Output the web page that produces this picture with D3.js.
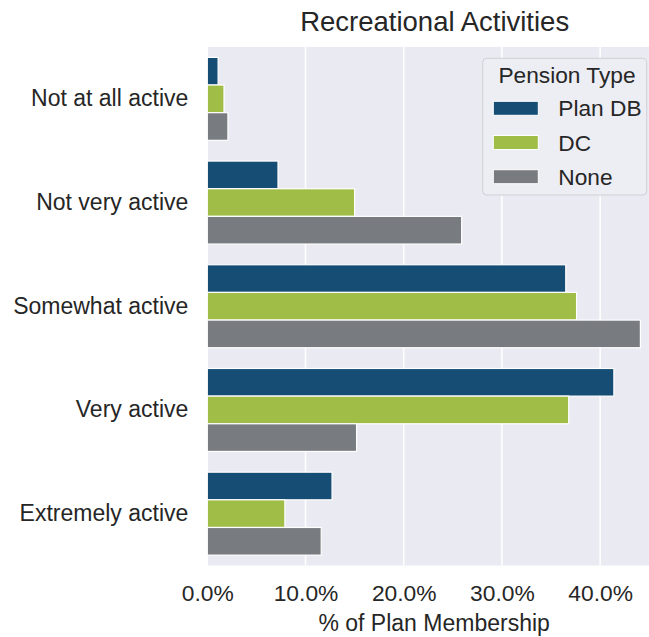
<!DOCTYPE html>
<html>
<head>
<meta charset="utf-8">
<script src="https://cdn.jsdelivr.net/npm/d3@7"></script>
<style>
  html, body { margin: 0; padding: 0; background: #ffffff; }
  svg { display: block; }
  text { font-family: "Liberation Sans", Arial, sans-serif; fill: #262626; }
</style>
</head>
<body>
<svg id="chart" width="649" height="637"></svg>
<script>
const categories = ["Not at all active", "Not very active", "Somewhat active", "Very active", "Extremely active"];
const seriesNames = ["Plan DB", "DC", "None"];
const planDB = [1.1, 7.2, 36.5, 41.4, 12.7];
const dc = [1.7, 15.0, 37.6, 36.8, 7.9];
const none = [2.1, 25.9, 44.1, 15.2, 11.6];
const xTicks = [0, 10, 20, 30, 40];
const colors = ["#154d75", "#a0bd48", "#787b80"];
const title = "Recreational Activities";
const xLabel = "% of Plan Membership";
const legendTitle = "Pension Type";

(function () {
const seriesValues = [planDB, dc, none];
const rows = [];
categories.forEach((c, i) => seriesNames.forEach((s, j) => rows.push({ cat: c, ser: s, val: seriesValues[j][i] })));

const svg = d3.select("#chart");
const pL = 207.3, pR = 662, pT = 47, pB = 565.5;

const x = d3.scaleLinear().domain([0, 46.3]).range([pL, pR]);
const y = d3.scaleBand().domain(categories).range([pT, pB]).padding(0);
const inner = d3.scaleBand().domain(seriesNames).range([y.bandwidth() * 0.1, y.bandwidth() * 0.9]).padding(0);
const color = d3.scaleOrdinal().domain(seriesNames).range(colors);

// background
svg.append("rect").attr("x", pL).attr("y", pT).attr("width", pR - pL).attr("height", pB - pT).attr("fill", "#eaeaf2");

// gridlines
svg.append("g").selectAll("line").data(xTicks).join("line")
  .attr("x1", d => x(d)).attr("x2", d => x(d)).attr("y1", pT).attr("y2", pB)
  .attr("stroke", "#ffffff").attr("stroke-width", 1.5);

// bars
svg.append("g").selectAll("rect").data(rows).join("rect")
  .attr("x", x(0))
  .attr("y", d => y(d.cat) + inner(d.ser))
  .attr("width", d => x(d.val) - x(0))
  .attr("height", inner.bandwidth())
  .attr("fill", d => color(d.ser))
  .attr("stroke", "#ffffff").attr("stroke-width", 1.2);

// x axis
const xAxis = svg.append("g").attr("transform", `translate(0,${pB})`)
  .call(d3.axisBottom(x).tickValues(xTicks).tickSize(0).tickPadding(19).tickFormat(d => d.toFixed(1) + "%"));
xAxis.select(".domain").remove();
xAxis.selectAll("text").attr("font-size", "22.8px").attr("fill", "#262626")
  .attr("font-family", "Liberation Sans, Arial, sans-serif").attr("dy", "0.71em");

// y axis
const yAxis = svg.append("g").attr("transform", `translate(${pL},0)`)
  .call(d3.axisLeft(y).tickSize(0).tickPadding(19));
yAxis.select(".domain").remove();
yAxis.selectAll("text").attr("font-size", "23px").attr("fill", "#262626")
  .attr("font-family", "Liberation Sans, Arial, sans-serif");

// title
svg.append("text").attr("x", (pL + pR) / 2).attr("y", 30.5).attr("text-anchor", "middle")
  .attr("font-size", "27.5px").text(title);

// x label
svg.append("text").attr("x", (pL + pR) / 2 - 0.5).attr("y", 630.5).attr("text-anchor", "middle")
  .attr("font-size", "23px").text(xLabel);

// legend
const lg = svg.append("g");
lg.append("rect").attr("x", 482.7).attr("y", 58.3).attr("width", 164).attr("height", 136.7)
  .attr("rx", 4).attr("fill", "#ededf4").attr("stroke", "#cfcfd6").attr("stroke-width", 1);
lg.append("text").attr("x", 567).attr("y", 83).attr("text-anchor", "middle").attr("font-size", "22.7px").text(legendTitle);
const items = lg.selectAll("g.item").data(seriesNames).join("g").attr("class", "item")
  .attr("transform", (d, i) => `translate(0,${108.3 + i * 34.2})`);
items.append("rect").attr("x", 493.3).attr("y", -7).attr("width", 45).attr("height", 14)
  .attr("fill", d => color(d)).attr("stroke", "#ffffff").attr("stroke-width", 1);
items.append("text").attr("x", 558.3).attr("y", 0).attr("dy", "0.36em").attr("font-size", "22.7px").text(d => d);
})();
</script>
</body>
</html>
